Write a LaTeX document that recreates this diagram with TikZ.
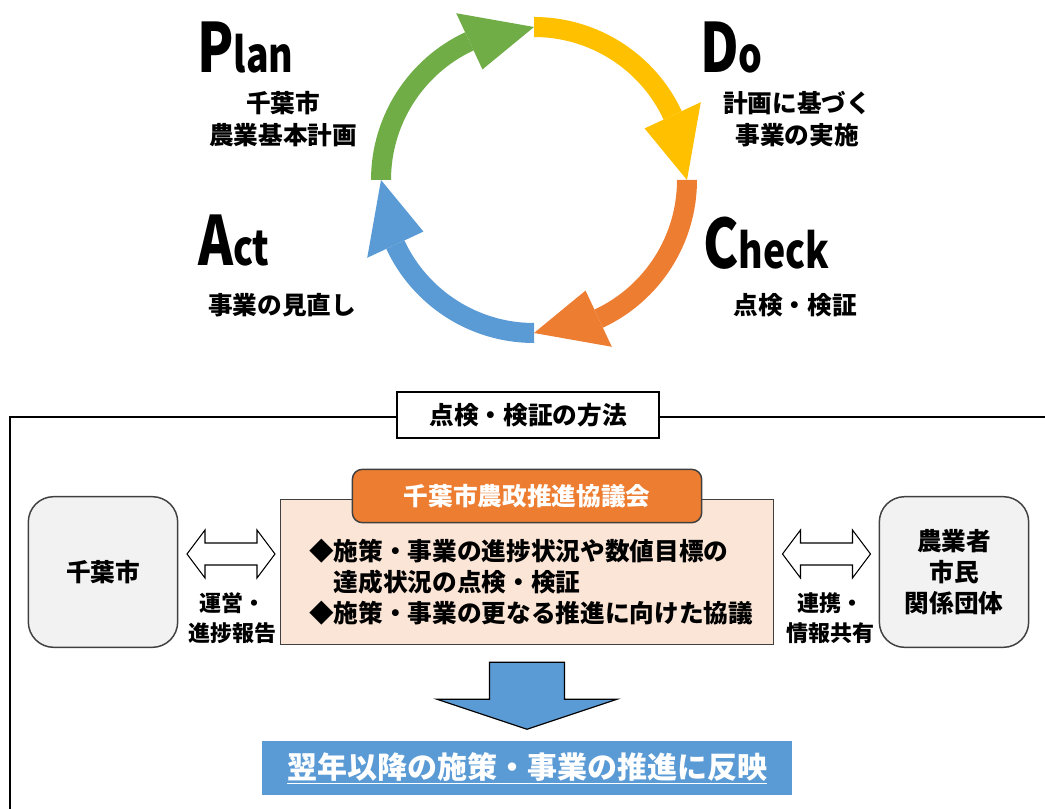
\documentclass[tikz,border=0pt]{standalone}
\usepackage{fontspec}
\setmainfont{Noto Sans CJK JP}
\usetikzlibrary{positioning,arrows.meta,calc}
\definecolor{planGreen}{HTML}{70AD47}
\definecolor{doYellow}{HTML}{FFC000}
\definecolor{checkOrange}{HTML}{ED7D31}
\definecolor{actBlue}{HTML}{5B9BD5}
\definecolor{peach}{HTML}{FBE5D6}
\definecolor{paleGray}{HTML}{F2F2F2}
\definecolor{edgeGray}{HTML}{404040}
\newcommand{\PdcaCap}[1]{{\fontsize{51}{51}\selectfont #1}}
\newcommand{\PdcaRest}[1]{{\fontsize{36}{36}\selectfont #1}}
\newcommand{\PdcaWord}[2]{\scalebox{0.78}[1]{\PdcaCap{#1}\PdcaRest{#2}}}

\begin{document}
\begin{tikzpicture}[
  x=0.75pt, y=-0.75pt,
  pdca/.style={anchor=base west, inner sep=0pt, font=\bfseries},
  ringtxt/.style={align=center, inner sep=0pt, font=\fontsize{18.5}{24}\selectfont\bfseries},
  party/.style={draw=edgeGray, line width=1.1pt, fill=paleGray, rounded corners=19pt,
                minimum width=112pt, minimum height=113pt, align=center,
                font=\fontsize{18.5}{23.5}\selectfont\bfseries},
  council/.style={draw=edgeGray, line width=1.1pt, fill=peach,
                  minimum width=370pt, minimum height=109pt},
  head/.style={draw=edgeGray, line width=1.1pt, fill=checkOrange, text=white,
               rounded corners=7.5pt, minimum width=262pt, minimum height=40pt,
               font=\fontsize{18.5}{22}\selectfont\bfseries},
  tag/.style={draw=black, line width=1.3pt, fill=white, minimum width=197pt,
              minimum height=34.5pt, font=\fontsize{18.5}{22}\selectfont\bfseries},
  body/.style={align=left, inner sep=0pt, font=\fontsize{18.5}{23}\selectfont\bfseries},
  linklbl/.style={align=center, inner sep=0pt, font=\fontsize{16.5}{22}\selectfont\bfseries},
  dbl/.style={draw=black, line width=0.8pt, fill=white, line join=miter},
  downarr/.style={draw=black, line width=0.9pt, fill=actBlue, line join=miter},
  result/.style={fill=actBlue, text=white, minimum width=397.5pt, minimum height=40pt,
                 font=\fontsize{22.5}{26}\selectfont\bfseries},
  frame/.style={draw=black, line width=1.3pt}
]
\clip (0,0) rectangle (1045,809);

% PDCA ring
\begin{scope}[shift={(534,180)}, y=0.75pt]
  % Plan -> Do
  \fill[planGreen] (180:163) arc[start angle=180, end angle=115, radius=163]
    -- (115:143) arc[start angle=115, end angle=180, radius=143] -- cycle;
  \fill[planGreen] (115:184) -- (90:153) -- (115:122) -- cycle;
  % Do -> Check
  \fill[doYellow] (90:163) arc[start angle=90, end angle=25, radius=163]
    -- (25:143) arc[start angle=25, end angle=90, radius=143] -- cycle;
  \fill[doYellow] (25:184) -- (0:153) -- (25:122) -- cycle;
  % Check -> Act
  \fill[checkOrange] (0:163) arc[start angle=0, end angle=-65, radius=163]
    -- (-65:143) arc[start angle=-65, end angle=0, radius=143] -- cycle;
  \fill[checkOrange] (-65:184) -- (-90:153) -- (-65:122) -- cycle;
  % Act -> Plan
  \fill[actBlue] (-90:163) arc[start angle=-90, end angle=-155, radius=163]
    -- (-155:143) arc[start angle=-155, end angle=-90, radius=143] -- cycle;
  \fill[actBlue] (-155:184) -- (-180:153) -- (-155:122) -- cycle;
\end{scope}

% Ring labels
\node[pdca] (planL) at (197,73) {\PdcaWord{P}{lan}};
\node[ringtxt] (planT) at (283,119) {千葉市\\農業基本計画};
\node[pdca] (doL) at (700,73) {\PdcaWord{D}{o}};
\node[ringtxt] (doT) at (797,119) {計画に基づく\\事業の実施};
\node[pdca] (actL) at (198,265) {\PdcaWord{A}{ct}};
\node[ringtxt] (actT) at (282,305) {事業の見直し};
\node[pdca] (chkL) at (703,268) {\PdcaWord{C}{heck}};
\node[ringtxt] (chkT) at (795,305) {点検・検証};

% Method frame
\draw[frame] (10,830) -- (10,417) -- (1060,417);
\node[tag] (method) at (528,415) {点検・検証の方法};

% Parties
\node[party] (city) at (103,572) {千葉市};
\node[party] (members) at (954,572) {農業者\\市民\\関係団体};
\node[council] (council) at (527,572) {};
\node[head] (ncc) at (527,496) {千葉市農政推進協議会};
\node[body] (aims) at (531,582) {◆施策・事業の進捗状況や数値目標の\\
  \hspace{1em}達成状況の点検・検証\\◆施策・事業の更なる推進に向けた協議};

% Links
\coordinate (lnkL) at ($(city.east)!0.5!(council.west)+(2,-18)$);
\coordinate (lnkR) at ($(council.east)!0.5!(members.west)+(0,-18)$);
\draw[dbl, shift={(lnkL)}] (-44,0) -- (-26,-24) -- (-26,-11) -- (26,-11) -- (26,-24)
  -- (44,0) -- (26,24) -- (26,11) -- (-26,11) -- (-26,24) -- cycle;
\draw[dbl, shift={(lnkR)}] (-44,0) -- (-26,-24) -- (-26,-11) -- (26,-11) -- (26,-24)
  -- (44,0) -- (26,24) -- (26,11) -- (-26,11) -- (-26,24) -- cycle;
\node[linklbl] at (232,618) {運営・\\進捗報告};
\node[linklbl] at (830,618) {連携・\\情報共有};

% Outcome
\node[result] (reflect) at (527,768) {\underline{翌年以降の施策・事業の推進に反映}};
\coordinate (down) at ($(council.south)!0.5!(reflect.north)$);
\draw[downarr, shift={(down)}] (-37.5,-31) -- (37.5,-31) -- (37.5,6) -- (90,6)
  -- (0,36) -- (-90,6) -- (-37.5,6) -- cycle;

\end{tikzpicture}
\end{document}
